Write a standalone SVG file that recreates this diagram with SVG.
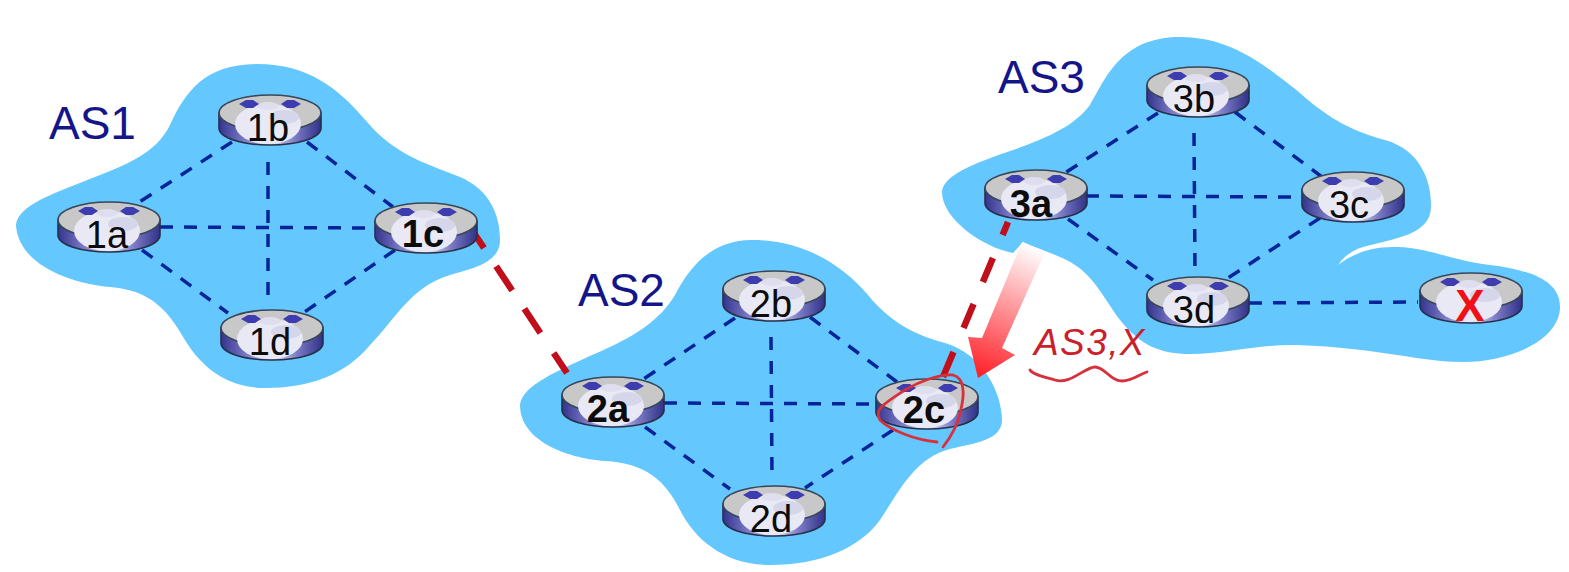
<svg xmlns="http://www.w3.org/2000/svg" width="1569" height="572" viewBox="0 0 1569 572">
<style>
.as{fill:#64c7fd}
.aslabel{font:46px "Liberation Sans",Arial,sans-serif;fill:#15158a}
.lbl{font:38px "Liberation Sans",Arial,sans-serif;fill:#0c0c0c;text-anchor:middle}
.b{font-weight:bold}
.link{stroke:#06249a;stroke-width:3.5;stroke-dasharray:13 11;fill:none}
.ext{stroke:#c00f1a;stroke-width:6.5;fill:none}
.ink{stroke:#d8303a;stroke-width:2.8;fill:none;stroke-linecap:round}
</style>
<defs>
<filter id="soft" x="-10%" y="-10%" width="120%" height="120%"><feGaussianBlur stdDeviation="0.6"/></filter>
<linearGradient id="band" x1="0" x2="1" y1="0" y2="0">
<stop offset="0" stop-color="#33338f"/><stop offset=".28" stop-color="#8484cc"/><stop offset=".5" stop-color="#e6e6f5"/><stop offset=".75" stop-color="#7a7ac4"/><stop offset="1" stop-color="#303088"/>
</linearGradient>
<linearGradient id="arrowFade" gradientUnits="userSpaceOnUse" x1="1034" y1="247" x2="978" y2="378">
<stop offset="0" stop-color="#ffffff"/><stop offset="1" stop-color="#ff1c24"/>
</linearGradient>
<g id="router" filter="url(#soft)">
<path d="M-51,-7V8C-51,18 -28,25 0,25S51,18 51,8V-7Z" fill="url(#band)" stroke="#26304a" stroke-width="1.6"/>
<ellipse cx="0" cy="-7" rx="51" ry="18" fill="#c8c8c8" stroke="#37465a" stroke-width="1.6"/>
<ellipse cx="-2" cy="4" rx="33" ry="20" fill="#e9e9f6"/>
<ellipse cx="14" cy="-3" rx="15" ry="7" fill="#d6d6ea"/>
<ellipse cx="-2" cy="-14" rx="11" ry="4" fill="#dedeee"/>
<path d="M-31,-16L-24,-20H-17L-11,-16L-17,-12H-24ZM11,-16L17,-20H24L31,-16L24,-12H17Z" fill="#3c3cb0"/>
</g>
</defs>

<g id="cloud-as1"><path class="as" d="M16,225C18,205 55,193 85,181C125,165 155,155 170,125C185,92 205,64 257,64C310,64 340,90 368,123C395,155 430,165 460,177C490,190 500,215 500,240C500,262 475,268 450,275C410,287 395,320 370,345C345,375 310,388 265,388C225,388 200,365 185,340C168,310 150,290 110,287C65,283 18,262 16,225Z"/></g>
<g id="cloud-as2"><path class="as" d="M520,405C522,385 560,370 592,355C635,337 660,320 675,295C692,262 715,240 752,240C800,240 840,262 868,295C890,322 915,335 945,343C985,355 1002,395 1002,420C1002,440 975,443 950,449C915,458 900,490 880,520C860,548 820,565 770,565C725,565 695,540 680,510C665,480 645,463 605,461C565,458 520,440 520,405Z"/></g>
<g id="cloud-as3"><path class="as" d="M1013,253C985,248 942,220 942,192C943,175 975,163 1013,150C1050,137 1075,125 1090,105C1105,80 1120,37 1180,37C1235,37 1270,70 1300,93C1330,120 1355,132 1385,140C1420,150 1431,180 1431,205C1432,235 1395,238 1363,247C1350,251 1343,258 1338,265C1355,252 1375,246 1397,247C1430,248 1450,260 1490,265C1530,270 1560,280 1560,307C1560,340 1510,362 1463,362C1420,362 1380,348 1297,345C1260,344 1225,354 1190,354C1160,354 1140,345 1120,320C1105,300 1095,278 1075,265C1060,255 1040,250 1023,242Z"/></g>

<g id="connectors">
<path class="link" d="M232,142L138,203M307,142L393,207M160,227L375,228M142,250L228,313M395,250L303,313M268,162V303"/>
<path class="link" d="M735,318L642,380M810,317L897,382M664,403L878,404M645,427L730,489M893,430L805,488M771,337L772,478"/>
<path class="link" d="M1158,113L1065,173M1235,112L1322,177M1086,196L1302,197M1068,219L1153,280M1320,218L1228,278M1194,133L1195,272"/>
<path class="link" d="M1249,303L1418,302"/>
<path class="ext" stroke-dasharray="18 22 29 22 29 24 29" d="M474,233L567,373"/>
<path class="ext" stroke-dasharray="14 25 26 24 26 26 28" d="M1008,222L943,377"/>
</g>

<g id="node-1a"><use href="#router" x="109" y="227"/><text class="lbl" x="107" y="248">1a</text></g>
<g id="node-1b"><use href="#router" x="270" y="120"/><text class="lbl" x="268" y="141">1b</text></g>
<g id="node-1c"><use href="#router" x="426" y="228"/><text class="lbl b" x="423" y="247">1c</text></g>
<g id="node-1d"><use href="#router" x="272" y="335"/><text class="lbl" x="270" y="355">1d</text></g>
<g id="node-2a"><use href="#router" x="613" y="402"/><text class="lbl b" x="608" y="422">2a</text></g>
<g id="node-2b"><use href="#router" x="774" y="296"/><text class="lbl" x="771" y="317">2b</text></g>
<g id="node-2c"><use href="#router" x="927" y="404"/><text class="lbl b" x="924" y="423">2c</text></g>
<g id="node-2d"><use href="#router" x="774" y="511"/><text class="lbl" x="771" y="532">2d</text></g>
<g id="node-3a"><use href="#router" x="1036" y="195"/><text class="lbl b" x="1031" y="217">3a</text></g>
<g id="node-3b"><use href="#router" x="1198" y="92"/><text class="lbl" x="1194" y="112">3b</text></g>
<g id="node-3c"><use href="#router" x="1353" y="197"/><text class="lbl" x="1349" y="218">3c</text></g>
<g id="node-3d"><use href="#router" x="1198" y="302"/><text class="lbl" x="1194" y="323">3d</text></g>
<g id="node-x"><use href="#router" x="1471" y="298"/><text class="lbl b" x="1470" y="321" style="fill:#f01018;font-size:44px">X</text></g>

<text class="aslabel" x="49" y="139">AS1</text>
<text class="aslabel" x="578" y="306">AS2</text>
<text class="aslabel" x="998" y="93">AS3</text>

<g id="annotation">
<path d="M1022,242L1045,252L1002,348L1015,355L978,378L968,337L982,338Z" fill="url(#arrowFade)"/>
<text x="1034" y="355" style="font:italic 37px 'Liberation Sans',Arial,sans-serif;fill:#c9202c;letter-spacing:1.4px">AS3,X</text>
<path class="ink" d="M1030,370C1033,375 1045,377 1055,380C1070,385 1085,367 1095,367C1105,367 1110,381 1122,381C1132,381 1140,374 1147,372"/>
<path class="ink" d="M937,442C915,440 890,430 880,420C873,410 885,403 905,390C920,381 940,374 953,375C965,378 965,395 960,413C957,428 950,438 943,447"/>
</g>
</svg>
